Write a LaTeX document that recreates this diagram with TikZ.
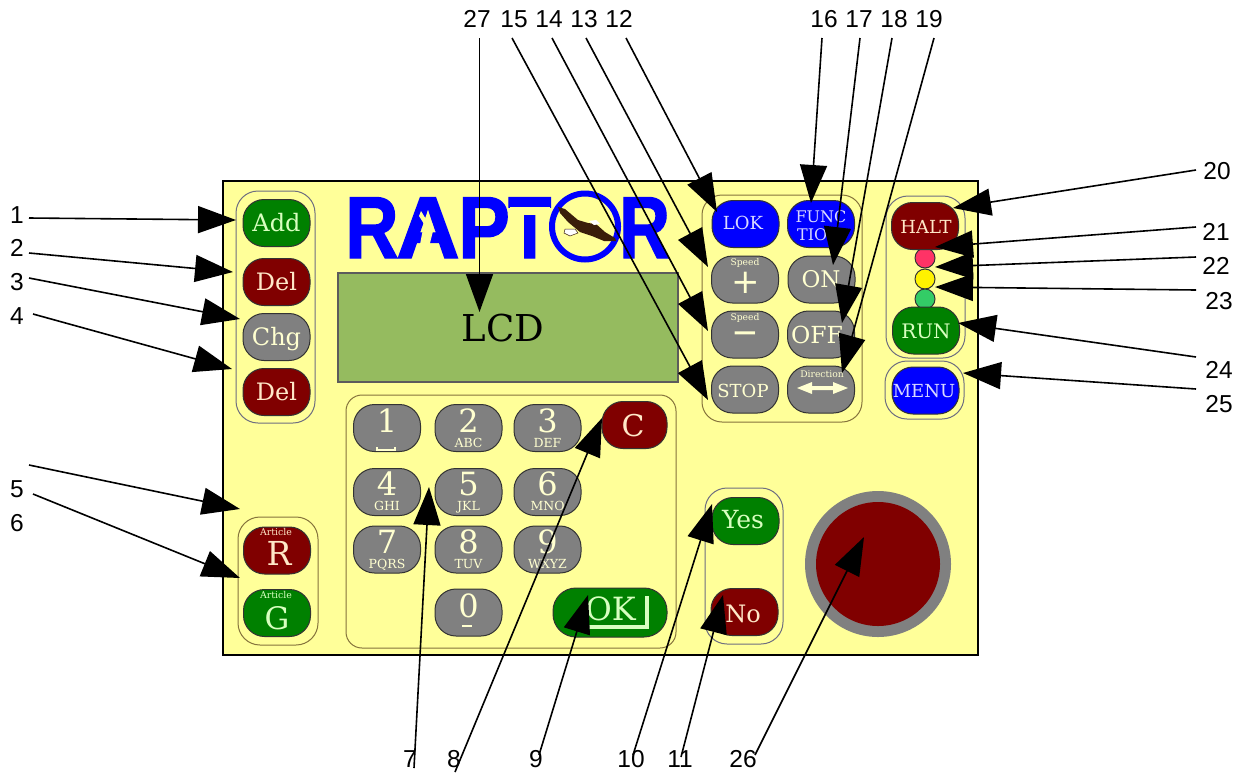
\documentclass[tikz,border=0pt]{standalone}
\usepackage{fontspec}
\usepackage{graphicx}
\setmainfont{DejaVu Serif}
\newfontfamily\lblfont{Liberation Sans}
\newfontfamily\dvsans{DejaVu Sans}
\newfontfamily\logofont[FakeBold=1.6]{Liberation Sans Bold}
\newfontfamily\logoofont{Liberation Sans}
\usetikzlibrary{arrows.meta}
\definecolor{panelc}{HTML}{FFFF99}
\definecolor{lcdc}{HTML}{95BB5F}
\definecolor{bgreen}{HTML}{008000}
\definecolor{bred}{HTML}{800000}
\definecolor{bblue}{HTML}{0000FF}
\definecolor{bgray}{HTML}{808080}
\definecolor{tcream}{HTML}{FFFFD0}
\definecolor{tgreen}{HTML}{D8FFC0}
\definecolor{tred}{HTML}{FFE8C8}
\definecolor{tblue}{HTML}{D8D8FF}
\definecolor{edgec}{HTML}{333333}
\definecolor{groupa}{HTML}{6E6E80}
\definecolor{groupb}{HTML}{85733C}
\definecolor{eaglec}{HTML}{3A1E0A}
\definecolor{ledr}{HTML}{FF3366}
\definecolor{ledg}{HTML}{33CC66}
\newcommand\fs[1]{\fontsize{#1}{#1}\selectfont}
\newcommand\LL[3]{\rlap{\hspace*{#1pt}\scalebox{#2}[1]{#3}}}
\newcommand\Lead[7]{%
  \node[lbl] (l#1) at (#2,#3) {#1};
  \coordinate (s#1) at (#4,#5);
  \coordinate (t#1) at (#6,#7);
  \draw[conn] (s#1) -- (t#1);}
\tikzset{
  panelbox/.style={draw=black,fill=panelc,line width=2pt},
  lcdbox/.style={draw=edgec!80,fill=lcdc,line width=1.2pt},
  groupbox/.style={draw=groupa,line width=1pt,rounded corners=22pt,minimum width=#1},
  btn/.style={draw=edgec,line width=1pt,rounded corners=21pt,minimum width=67pt,minimum height=47pt,inner sep=0pt},
  txt/.style={anchor=base,inner sep=0pt},
  lbl/.style={anchor=base,inner sep=0pt,font=\lblfont\fs{24.5},text=black},
  conn/.style={draw=black,line width=1.6pt,-{Triangle[length=38pt,width=27pt]}},
  led/.style={circle,draw=edgec,line width=1pt,minimum size=20pt,inner sep=0pt},
}
\begin{document}
\begin{tikzpicture}[x=1pt,y=-1pt]
\useasboundingbox (0,0) rectangle (1244,772);
\fill[white] (0,0) rectangle (1244,772);
\node[panelbox,minimum width=755pt,minimum height=474pt,inner sep=0pt] (panel) at (600.5,418) {};
% groups
\node[groupbox=79pt,minimum height=232pt] (gleft) at (275.5,307) {};
\node[groupbox=80pt,minimum height=128pt,draw=groupb] (gart) at (278,581) {};
\node[groupbox=330pt,minimum height=253pt,rounded corners=16pt,draw=groupb] (gkeys) at (511,521.5) {};
\node[groupbox=160pt,minimum height=227pt,rounded corners=20pt,draw=groupb] (gctl) at (782,308.5) {};
\node[groupbox=79pt,minimum height=162pt] (ghalt) at (925.5,277) {};
\node[groupbox=79pt,minimum height=58pt] (gmenu) at (924.5,390) {};
\node[groupbox=78pt,minimum height=156pt] (gyes) at (744,566) {};
% logo
\node[anchor=base west,inner sep=0pt,text=bblue] (logo) at (345,258) {\fs{88}\logofont
  \LL{0}{.84}{R}\LL{51}{1}{A}\LL{113}{.88}{P}\LL{163}{.8}{T}\LL{204}{1.08}{\logoofont O}\LL{274}{.8}{R}\hspace*{330pt}};
\fill[panelc] (585,226.5) circle (31pt);
\draw[bblue,line width=6pt] (585,226.5) circle (33pt);
% stencil slits
\fill[panelc] (510,207) rectangle (550,215);
\fill[panelc] (421,211) -- (433,231) -- (426,259.5) -- (417,259.5) -- (424,224) -- (419,216) -- cycle;
\fill[eaglec] (558,207) -- (565,209) -- (578,220) -- (588,223) -- (596,224) -- (605,232) -- (615,238) -- (616,241) -- (604,241) -- (592,236) -- (580,232) -- (568,222) -- (560,213) -- cycle;
\fill[white,draw=eaglec,line width=.5pt] (565,229) -- (575,229) -- (578,233) -- (570,236) -- (564,233) -- cycle;
\fill[white] (589,221) -- (596,220) -- (600,224) -- (594,225) -- cycle;
% LCD
\node[lcdbox,minimum width=340pt,minimum height=109pt,inner sep=0pt] (lcd) at (508,327.5) {};
\node[txt,font=\fs{37},text=black] (lcdt) at (503,341) {LCD};
% left group
\node[btn,fill=bgreen] (add) at (276.5,223) {};
\node[btn,fill=bred] (dela) at (276.5,282) {};
\node[btn,fill=bgray] (chg) at (276.5,337) {};
\node[btn,fill=bred] (delb) at (276.5,392) {};
\node[txt,font=\fs{24},text=tgreen] (addt) at (276.5,231) {Add};
\node[txt,font=\fs{24},text=tred] (delat) at (276.5,290) {Del};
\node[txt,font=\fs{24},text=tcream] (chgt) at (276.5,345) {Chg};
\node[txt,font=\fs{24},text=tred] (delbt) at (276.5,400) {Del};
% article
\node[btn,fill=bred] (artr) at (277,550.5) {};
\node[btn,fill=bgreen] (artg) at (277,613) {};
\node[txt,font=\fs{9.4},text=tred] (artrs) at (276,535) {Article};
\node[txt,font=\fs{33},text=tred] (artrt) at (279,565) {R};
\node[txt,font=\fs{9.4},text=tgreen] (artgs) at (276,598) {Article};
\node[txt,font=\fs{31},text=tgreen] (artgt) at (277,629) {G};
% keypad
\foreach \n/\x/\y/\bb/\d/\subt in {1/387/428/432/1/,2/468.5/428/432/2/ABC,3/547.5/428/432/3/DEF,4/387/492/495/4/GHI,5/468.5/492/495/5/JKL,6/547.5/492/495/6/MNO,7/387/549.5/553/7/PQRS,8/468.5/549.5/553/8/TUV,9/547.5/549.5/553/9/WXYZ,0/468.5/612.5/617/0/}{
  \node[btn,fill=bgray] (k\n) at (\x,\y) {};
  \node[txt,font=\fs{32},text=tcream] (kd\n) at (\x,\bb) {\d};
  \node[txt,font=\fs{12.5},text=tcream,yshift=-15.5pt] (ks\n) at (\x,\bb) {\subt};
}
\draw[tcream,line width=1.2pt] (377,447) -- (377,450) -- (395,450) -- (395,447);
\draw[tcream,line width=1.4pt] (462,626) -- (472,626);
\node[btn,fill=bred,minimum width=65pt] (kc) at (634.5,425) {};
\node[txt,font=\fs{30},text=tred] (kct) at (633,436) {C};
\node[btn,fill=bgreen,minimum width=114pt,minimum height=49pt,rounded corners=23pt] (kok) at (610,612.5) {};
\node[txt,font=\fs{32},text=tgreen,anchor=base east] (kokt) at (636,620) {OK};
\draw[tgreen,line width=4pt] (647,596) -- (647,627) -- (588,627);
% control block
\node[btn,fill=bblue] (lok) at (745.5,224) {};
\node[btn,fill=bblue] (func) at (821,224) {};
\node[btn,fill=bgray] (plus) at (745,279.5) {};
\node[btn,fill=bgray] (on) at (821.5,279.5) {};
\node[btn,fill=bgray] (minus) at (745,334.5) {};
\node[btn,fill=bgray] (off) at (821,334.5) {};
\node[btn,fill=bgray] (stop) at (745,389.5) {};
\node[btn,fill=bgray] (dir) at (821,389.5) {};
\node[txt,font=\fs{18},text=tblue] (lokt) at (743,229) {LOK};
\node[txt,font=\fs{16},text=tblue] (funct) at (821,222) {FUNC};
\node[txt,font=\fs{16},text=tblue,anchor=base west] (funcb) at (797,240) {TIO};
\node[txt,font=\fs{9.2},text=tcream] (plust) at (745,265) {Speed};
\node[anchor=center,inner sep=0pt,font=\dvsans\fs{34},text=tcream] (plusg) at (746,283) {+};
\node[txt,font=\fs{23},text=tcream] (ont) at (821,287) {ON};
\node[txt,font=\fs{9.2},text=tcream] (minust) at (745,320) {Speed};
\node[anchor=center,inner sep=0pt,font=\dvsans\bfseries\fs{26},text=tcream] (minusg) at (745,337) {\scalebox{1.25}[1]{−}};
\node[txt,font=\fs{23.5},text=tcream] (offt) at (817,343) {OFF};
\node[txt,font=\fs{18},text=tcream] (stopt) at (743,397) {STOP};
\node[txt,font=\fs{9.2},text=tcream] (dirt) at (822,377) {Direction};
\fill[tcream] (797,388) -- (812,382) -- (812,386) -- (833,386) -- (833,382) -- (848,388) -- (833,394) -- (833,390) -- (812,390) -- (812,394) -- cycle;
% halt/run
\node[led,fill=ledr] (ledra) at (925,258) {};
\node[led,fill=yellow] (ledy) at (925,279) {};
\node[led,fill=ledg] (ledga) at (925,299) {};
\node[btn,fill=bred] (halt) at (925,226) {};
\node[btn,fill=bgreen] (run) at (926,330.5) {};
\node[btn,fill=bblue] (menu) at (925.5,390.5) {};
\node[txt,font=\fs{18},text=tred] (haltt) at (926,233) {HALT};
\node[txt,font=\fs{20},text=tgreen] (runt) at (926,338) {RUN};
\node[txt,font=\fs{18},text=tblue] (menut) at (924,397) {MENU};
% yes/no
\node[btn,fill=bgreen] (yes) at (745.5,521) {};
\node[btn,fill=bred] (no) at (744.5,612) {};
\node[txt,font=\fs{25},text=tgreen] (yest) at (743,528) {Yes};
\node[txt,font=\fs{24},text=tred] (not) at (743,622) {No};
% emergency stop
\node[circle,fill=bgray,minimum size=146pt,inner sep=0pt] (estopo) at (878,564) {};
\node[circle,fill=bred,minimum size=124pt,inner sep=0pt] (estopi) at (878,564) {};
% leaders
\Lead{1}{17}{223}{29}{218}{236}{220}
\Lead{2}{17}{256}{29}{253}{233}{272}
\Lead{3}{17}{290}{29}{278}{240}{319}
\Lead{4}{17}{324}{33}{314}{232}{369}
\Lead{5}{17}{497}{29}{465}{240}{509}
\Lead{6}{17}{531}{33}{494}{240}{578}
\Lead{7}{410}{767}{414}{768}{429}{487}
\Lead{8}{454}{767}{455}{772}{602}{418}
\Lead{9}{536}{767}{539}{755}{588}{595}
\Lead{10}{631}{767}{633}{755}{712}{504}
\Lead{11}{680}{767}{681}{757}{723}{595}
\Lead{26}{743}{767}{755}{755}{864}{537}
\Lead{27}{477}{27}{479.5}{38}{479.5}{312}
\Lead{15}{514}{27}{512}{38}{708}{400}
\Lead{14}{549}{27}{552}{38}{708}{331}
\Lead{13}{584}{27}{586}{38}{708}{267}
\Lead{12}{619}{27}{626}{38}{717}{212}
\Lead{16}{824}{27}{822}{38}{811}{203}
\Lead{17}{859}{27}{860}{38}{833}{265}
\Lead{18}{894}{27}{892}{38}{842}{323}
\Lead{19}{929}{27}{934}{38}{842}{373}
\Lead{20}{1217}{179}{1196}{170}{953}{208}
\Lead{21}{1216}{240}{1196}{227}{935}{247}
\Lead{22}{1216}{274}{1196}{257}{935}{267}
\Lead{23}{1219}{309}{1196}{290}{935}{287}
\Lead{24}{1219}{378}{1196}{357}{958}{323}
\Lead{25}{1219}{412}{1196}{389}{963}{373}
\end{tikzpicture}
\end{document}
